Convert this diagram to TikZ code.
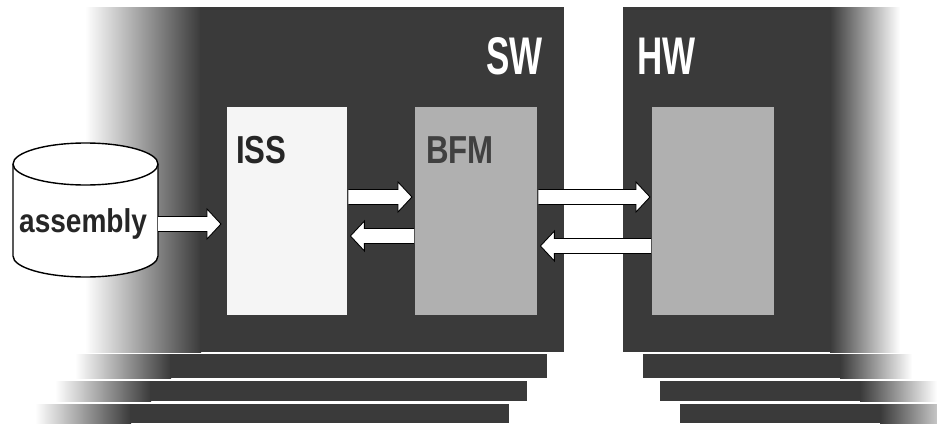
\documentclass[tikz,border=0pt]{standalone}
\usepackage{fontspec}
\setmainfont{Liberation Sans}
\usetikzlibrary{calc}
\definecolor{panel}{HTML}{3A3A3A}
\definecolor{boxgray}{HTML}{B0B0B0}
\definecolor{issfill}{HTML}{F5F5F5}
\newcommand\blockarr[2]{%
  \path[barrow] let \p1=(#1), \p2=(#2), \n1={ifthenelse(\x2>\x1,1,-1)} in
    (\x1,\y1+7.5pt) -- (\x2-\n1*14pt,\y1+7.5pt) -- (\x2-\n1*14pt,\y1+15pt) -- (\x2,\y1)
    -- (\x2-\n1*14pt,\y1-15pt) -- (\x2-\n1*14pt,\y1-7.5pt) -- (\x1,\y1-7.5pt);}
\begin{document}
\begin{tikzpicture}[x=1pt,y=-1pt,
  solid panel/.style={fill=panel},
  fadein/.style={left color=white, right color=panel},
  fadeout/.style={left color=panel, right color=white},
  innerbox/.style={minimum width=122pt, minimum height=208pt, inner sep=0pt, anchor=north west},
  barrow/.style={fill=white, draw=black, line width=0.9pt, line join=miter},
  lbl/.style={font=\bfseries\fontsize{39}{39}\selectfont, inner sep=0pt, anchor=base west, xscale=0.8},
  biglbl/.style={font=\bfseries\fontsize{53}{53}\selectfont, text=white, inner sep=0pt, anchor=base west, xscale=0.66},
  cyl/.style={fill=white, draw=black, line width=1.4pt}]
\useasboundingbox (0,0) rectangle (937,423);
% SW panel
\shade[fadein] (85,7) rectangle (201,352);
\fill[panel] (200,7) rectangle (564,352);
% HW panel
\fill[panel] (623,7) rectangle (831,352);
\shade[fadeout] (830,7) rectangle (900,352);
% left bars
\shade[fadein] (75,354) rectangle (171,378);
\fill[panel] (170,354) rectangle (547,378);
\shade[fadein] (55,381) rectangle (151,401);
\fill[panel] (150,381) rectangle (527,401);
\shade[fadein] (35,404) rectangle (131,423);
\fill[panel] (130,404) rectangle (509,423);
% right bars
\fill[panel] (643,354) rectangle (841,378);
\shade[fadeout] (840,354) rectangle (912,378);
\fill[panel] (660,381) rectangle (861,401);
\shade[fadeout] (860,381) rectangle (937,401);
\fill[panel] (680,404) rectangle (881,423);
\shade[fadeout] (880,404) rectangle (960,423);
% inner boxes
\node[innerbox, minimum width=120pt, fill=issfill] (iss) at (227,107) {};
\node[innerbox, fill=boxgray] (bfm) at (415,107) {};
\node[innerbox, fill=boxgray] (hwb) at (652,107) {};
% cylinder
\draw[cyl] (13,164) -- (13,256) arc[start angle=180, end angle=0, x radius=72.5, y radius=21]
  -- (158,164) arc[start angle=0, end angle=-180, x radius=72.5, y radius=21] -- cycle;
\draw[cyl, fill=none] (13,164) arc[start angle=180, end angle=0, x radius=72.5, y radius=21];
\coordinate (cylR) at (158,224);
% labels
\node[font=\bfseries\fontsize{33}{33}\selectfont, xscale=0.85, anchor=base west, inner sep=0pt, text=black!85] (asm) at (19,232) {assembly};
\node[lbl, text=black!85] (isslbl) at (236,163) {ISS};
\node[lbl, text=black!75] (bfmlbl) at (426,163) {BFM};
\node[biglbl] (swlbl) at (486,74) {SW};
\node[biglbl] (hwlbl) at (637,74) {HW};
% arrows
\blockarr{cylR}{$(iss.north west)+(-6,117)$}
\blockarr{$(iss.north east)+(1,90)$}{$(bfm.north west)+(-3,90)$}
\blockarr{$(bfm.north west)+(-1,129)$}{$(iss.north east)+(3,129)$}
\blockarr{$(bfm.north east)+(1,90)$}{$(hwb.north west)+(-2,90)$}
\blockarr{$(hwb.north west)+(-1,139)$}{$(bfm.north east)+(3,139)$}
\end{tikzpicture}
\end{document}
